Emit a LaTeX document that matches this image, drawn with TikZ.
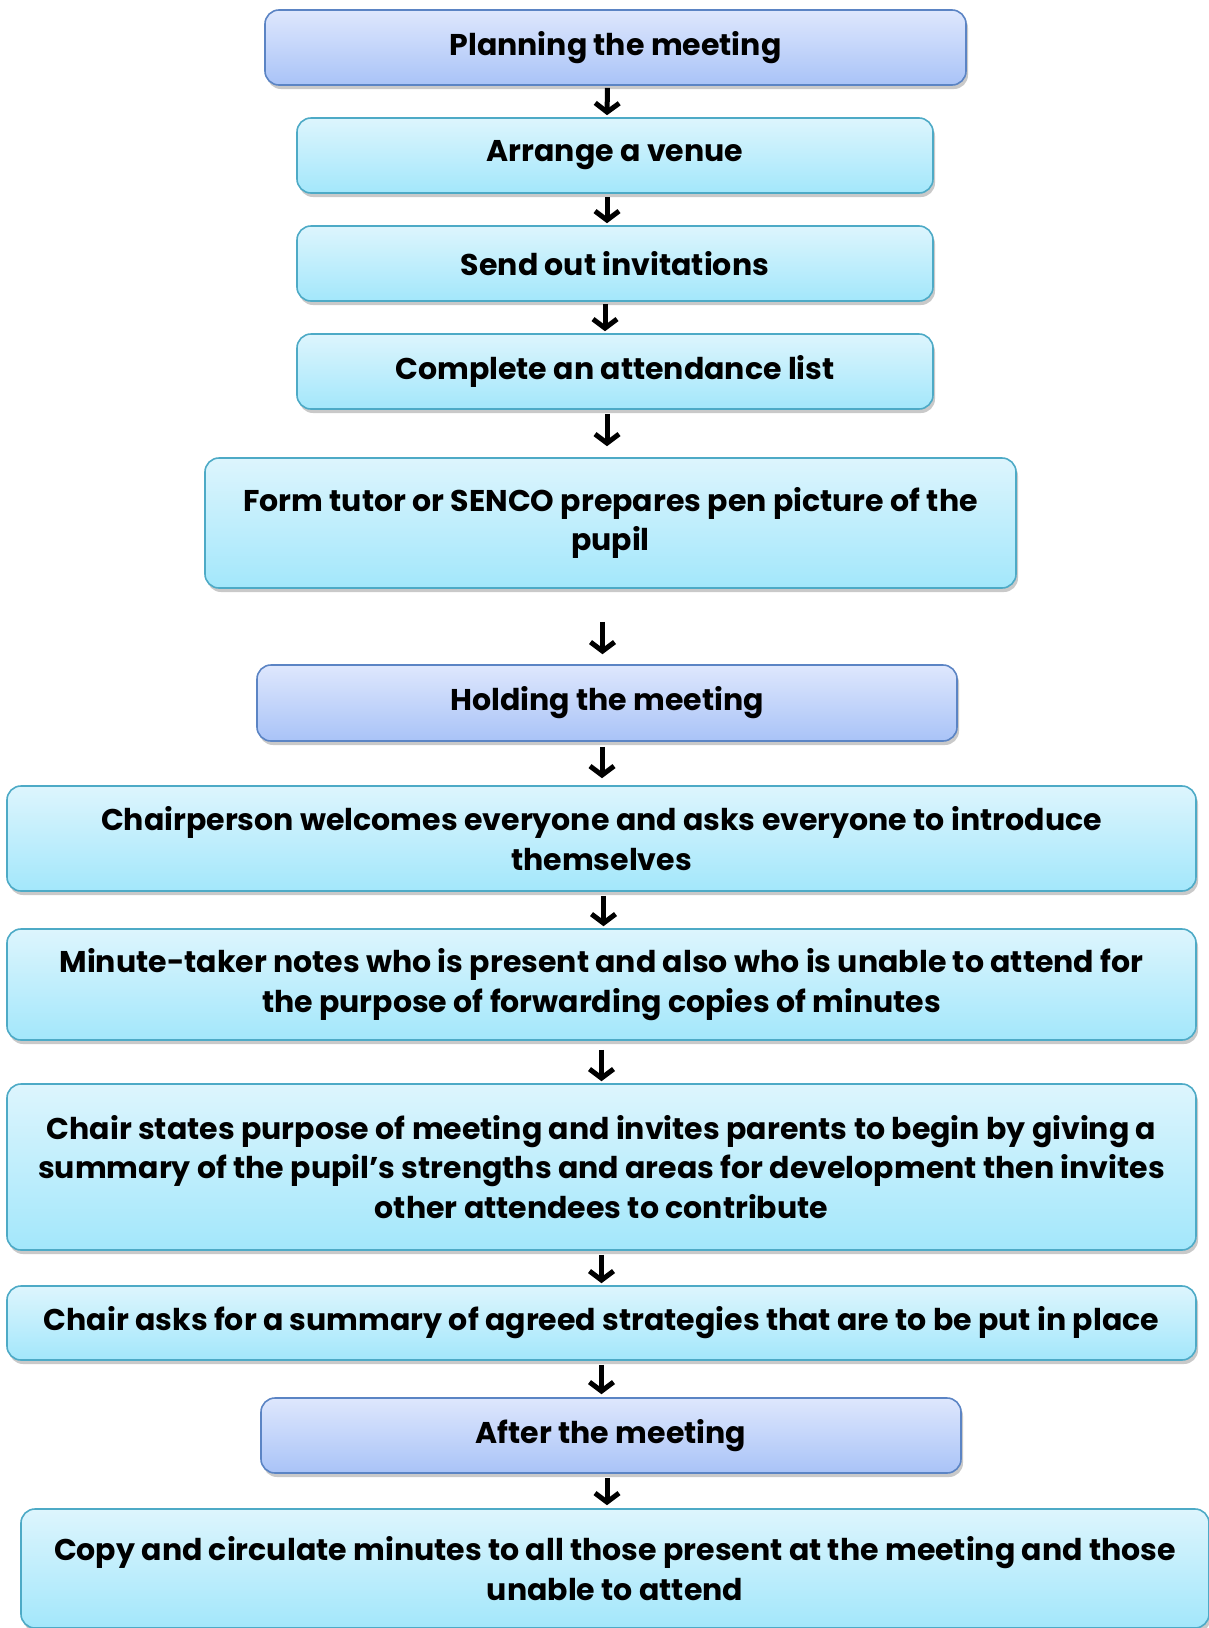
\documentclass[tikz,border=0pt]{standalone}
\usepackage{fontspec}
\setmainfont{Poppins}
\usetikzlibrary{calc,arrows.meta,shadows}

\definecolor{stagetop}{HTML}{DEE7FD}
\definecolor{stagebot}{HTML}{A9C3F7}
\definecolor{stageline}{HTML}{5B84C4}
\definecolor{tasktop}{HTML}{DDF5FD}
\definecolor{taskbot}{HTML}{A3E7FB}
\definecolor{taskline}{HTML}{4DAAC6}

\tikzset{
  box/.style={rectangle,rounded corners=14pt,line width=1.6pt,align=center,
    font=\fontsize{30}{39.5}\selectfont\bfseries,inner sep=0pt,
    drop shadow={shadow xshift=2pt,shadow yshift=-4pt,opacity=0.3,fill=black!70}},
  stagebox/.style={box,draw=stageline,top color=stagetop,bottom color=stagebot},
  taskbox/.style={box,draw=taskline,top color=tasktop,bottom color=taskbot},
  flow/.style={line width=5pt,-{Straight Barb[length=9pt,width=24pt,line width=5pt]}}
}

\begin{document}
\begin{tikzpicture}[x=1pt,y=-1pt]
  \useasboundingbox (0,0) rectangle (1209,1628);
  % planning
  \node[stagebox,minimum width=701pt,minimum height=75pt](plan)at(615.5,47.5){Planning the meeting};
  \node[taskbox,minimum width=636pt,minimum height=75pt](venue)at(615,155.5){Arrange a venue};
  \node[taskbox,minimum width=636pt,minimum height=75pt](invite)at(615,263.5){Send out invitations};
  \node[taskbox,minimum width=636pt,minimum height=75pt](attend)at(615,371.5){Complete an attendance list};
  \node[taskbox,minimum width=811pt,minimum height=130pt](pen)at(610.5,523){Form tutor or SENCO prepares pen picture of the\\pupil};
  % holding
  \node[stagebox,minimum width=700pt,minimum height=76pt](hold)at(607,703){Holding the meeting};
  \node[taskbox,minimum width=1189pt,minimum height=105pt](welcome)at(601.5,838.5){Chairperson welcomes everyone and asks everyone to introduce\\themselves};
  \node[taskbox,minimum width=1189pt,minimum height=111pt](minute)at(601.5,984.5){Minute-taker notes who is present and also who is unable to attend for\\the purpose of forwarding copies of minutes};
  \node[taskbox,minimum width=1189pt,minimum height=166pt](purpose)at(601.5,1167){Chair states purpose of meeting and invites parents to begin by giving a\\summary of the pupil’s strengths and areas for development then invites\\other attendees to contribute};
  \node[taskbox,minimum width=1189pt,minimum height=74pt](summary)at(601.5,1323){Chair asks for a summary of agreed strategies that are to be put in place};
  % after
  \node[stagebox,minimum width=700pt,minimum height=75pt](after)at(611,1435.5){After the meeting};
  \node[taskbox,minimum width=1188pt,minimum height=119pt](copy)at(615,1568.5){Copy and circulate minutes to all those present at the meeting and those\\unable to attend};

  \draw[flow,shorten <=2pt,shorten >=2pt]([xshift=-8pt]plan.south)--([xshift=-8pt]venue.north);
  \draw[flow,shorten <=3pt,shorten >=2pt]([xshift=-8pt]venue.south)--([xshift=-8pt]invite.north);
  \draw[flow,shorten <=2pt,shorten >=2pt]([xshift=-10pt]invite.south)--([xshift=-10pt]attend.north);
  \draw[flow,shorten <=4pt,shorten >=11pt]([xshift=-8pt]attend.south)--([xshift=-8pt]pen.north -| attend.south);
  \draw[flow,shorten <=33pt,shorten >=10pt]([xshift=-8pt]pen.south)--([xshift=-8pt]pen.south |- hold.north);
  \draw[flow,shorten <=5pt,shorten >=7pt]([xshift=-5pt]hold.south)--([xshift=-5pt]hold.south |- welcome.north);
  \draw[flow,shorten <=4pt,shorten >=2pt]([xshift=2pt]welcome.south)--([xshift=2pt]minute.north);
  \draw[flow,shorten <=9pt,shorten >=2pt]([xshift=0pt]minute.south)--([xshift=0pt]purpose.north);
  \draw[flow,shorten <=4pt,shorten >=2pt]([xshift=0pt]purpose.south)--([xshift=0pt]summary.north);
  \draw[flow,shorten <=4pt,shorten >=3pt]([xshift=0pt]summary.south)--([xshift=0pt]summary.south |- after.north);
  \draw[flow,shorten <=4pt,shorten >=3pt]([xshift=-4pt]after.south)--([xshift=-4pt]after.south |- copy.north);
\end{tikzpicture}
\end{document}
